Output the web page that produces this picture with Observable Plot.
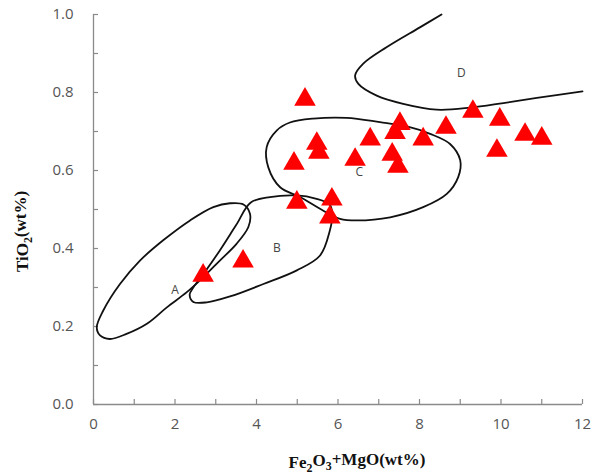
<!DOCTYPE html>
<html>
<head>
<meta charset="utf-8">
<script src="https://cdn.jsdelivr.net/npm/d3@7"></script>
<script src="https://cdn.jsdelivr.net/npm/@observablehq/plot@0.6"></script>
<style>
  html, body { margin: 0; padding: 0; background: #fff; }
</style>
</head>
<body>
<div id="chart"></div>
<script>
// ---- data ----
const sampleX = [2.69, 3.67, 5.19, 5.48, 5.53, 4.92, 6.42, 6.79, 4.99, 5.85, 5.80, 7.52, 7.40, 7.33, 7.47, 8.09, 8.65, 9.31, 9.97, 9.90, 10.59, 11.00];
const sampleY = [0.331, 0.367, 0.782, 0.669, 0.646, 0.618, 0.628, 0.680, 0.518, 0.526, 0.480, 0.720, 0.697, 0.641, 0.610, 0.680, 0.710, 0.751, 0.731, 0.651, 0.692, 0.682];

// field boundaries (closed loops A, B, C; open line D)
const fieldA = [[0.08,0.198],[0.24,0.241],[0.65,0.309],[1.14,0.369],[1.71,0.421],[2.37,0.472],[2.94,0.506],[3.35,0.516],[3.68,0.513],[3.84,0.489],[3.80,0.455],[3.51,0.412],[3.10,0.369],[2.69,0.326],[2.29,0.288],[1.80,0.249],[1.31,0.207],[0.81,0.181],[0.40,0.168],[0.16,0.177]];
const fieldB = [[2.36,0.282],[2.45,0.263],[2.78,0.262],[3.35,0.277],[4.17,0.309],[4.99,0.344],[5.56,0.382],[5.80,0.446],[5.86,0.485],[5.80,0.512],[5.45,0.528],[4.99,0.536],[4.33,0.532],[3.86,0.518],[3.50,0.460],[3.10,0.395],[2.70,0.335],[2.45,0.300]];
const fieldC = [[4.25,0.660],[4.50,0.703],[4.82,0.723],[5.39,0.733],[6.21,0.735],[7.03,0.724],[7.69,0.713],[8.26,0.694],[8.75,0.668],[9.00,0.626],[8.95,0.583],[8.67,0.540],[8.09,0.506],[7.28,0.480],[6.46,0.472],[6.05,0.476],[5.64,0.497],[5.07,0.532],[4.58,0.557],[4.29,0.608]];
const fieldD = [[8.54,1.000],[8.01,0.967],[7.19,0.916],[6.62,0.874],[6.42,0.844],[6.50,0.822],[6.95,0.792],[7.60,0.771],[8.42,0.756],[9.24,0.761],[10.06,0.773],[10.88,0.786],[12.00,0.803]];

const fieldNames = ["A", "B", "C", "D"];
const fieldLabelX = [2.0, 4.5, 6.52, 9.03];
const fieldLabelY = [0.294, 0.40, 0.597, 0.85];

const xTickLabels = [0, 2, 4, 6, 8, 10, 12];
const xTickMarks = [0, 1, 2, 3, 4, 5, 6, 7, 8, 9, 10, 11, 12];
const yTickLabels = [0.0, 0.2, 0.4, 0.6, 0.8, 1.0];
const yTickMarks = [0.0, 0.1, 0.2, 0.3, 0.4, 0.5, 0.6, 0.7, 0.8, 0.9, 1.0];

const xTitle = "Fe2O3+MgO(wt%)";
const yTitle = "TiO2(wt%)";

// ---- layout ----
const W = 592, H = 476;
const mL = 93, mR = 10, mT = 14, mB = 72;
const innerW = W - mL - mR, innerH = H - mT - mB;
const axisGray = "#8a8a8a";
const tickFont = "'Open Sans', 'Liberation Sans', sans-serif";
const titleFont = "'Liberation Serif', 'DejaVu Serif', serif";

const samples = sampleX.map((x, i) => ({x, y: sampleY[i]}));
const labels = fieldNames.map((name, i) => ({name, x: fieldLabelX[i], y: fieldLabelY[i]}));
const lineStyle = {x: d => d[0], y: d => d[1], stroke: "#111", strokeWidth: 1.8};

const chart = Plot.plot({
  width: W, height: H,
  marginLeft: mL, marginRight: mR, marginTop: mT, marginBottom: mB,
  x: {domain: [0, 12]},
  y: {domain: [0, 1]},
  style: {background: "#fff", color: "#555", fontFamily: tickFont},
  marks: [
    Plot.ruleY([0], {stroke: axisGray, strokeWidth: 1.3}),
    Plot.ruleX([0], {stroke: axisGray, strokeWidth: 1.3}),
    Plot.tickX(xTickMarks, {x: d => d, stroke: axisGray, strokeWidth: 1.2, insetTop: innerH - 5}),
    Plot.tickY(yTickMarks, {y: d => d, stroke: axisGray, strokeWidth: 1.2, insetRight: innerW - 5}),
    Plot.axisX({ticks: xTickLabels, tickSize: 0, tickPadding: 14, fontSize: 15, label: null, fill: "#555"}),
    Plot.axisY({ticks: yTickLabels, tickSize: 0, tickPadding: 20, fontSize: 15, tickFormat: ".1f", label: null, fill: "#555"}),
    Plot.line(fieldA, {...lineStyle, curve: "catmull-rom-closed"}),
    Plot.line(fieldB, {...lineStyle, curve: "catmull-rom-closed"}),
    Plot.line(fieldC, {...lineStyle, curve: "catmull-rom-closed"}),
    Plot.line(fieldD, {...lineStyle, curve: "catmull-rom"}),
    Plot.text(labels, {x: "x", y: "y", text: "name", fontSize: 12, fill: "#444", fontFamily: tickFont}),
    Plot.dot(samples, {x: "x", y: "y", symbol: "triangle", r: 8, fill: "#ff0000", stroke: "none"}),
    Plot.text([xTitle], {text: d => d, frameAnchor: "bottom", textAnchor: "middle", lineAnchor: "middle", dx: 19, dy: 58, fontSize: 17, fontWeight: "bold", fontFamily: titleFont, fill: "#111"}),
    Plot.text([yTitle], {text: d => d, frameAnchor: "left", textAnchor: "middle", lineAnchor: "middle", dx: -71, dy: 22, rotate: -90, fontSize: 17, fontWeight: "bold", fontFamily: titleFont, fill: "#111"})
  ]
});

document.getElementById("chart").appendChild(chart);

// Render the digit subscripts of the chemical formulas as real subscripts.
function subscriptify(str) {
  d3.select(chart).selectAll("text").filter(function () { return this.textContent === str; })
    .each(function () {
      const el = d3.select(this);
      el.text(null);
      const parts = str.split(/(\d)/).filter(s => s.length);
      let sub = false;
      parts.forEach(p => {
        const isDigit = /^\d$/.test(p);
        const t = el.append("tspan").text(p);
        if (isDigit && !sub) { t.attr("dy", "0.3em").attr("font-size", "70%"); sub = true; }
        else if (isDigit && sub) { t.attr("font-size", "70%"); }
        else if (!isDigit && sub) { t.attr("dy", "-0.3em"); sub = false; }
      });
    });
}
subscriptify(xTitle);
subscriptify(yTitle);
</script>
</body>
</html>
